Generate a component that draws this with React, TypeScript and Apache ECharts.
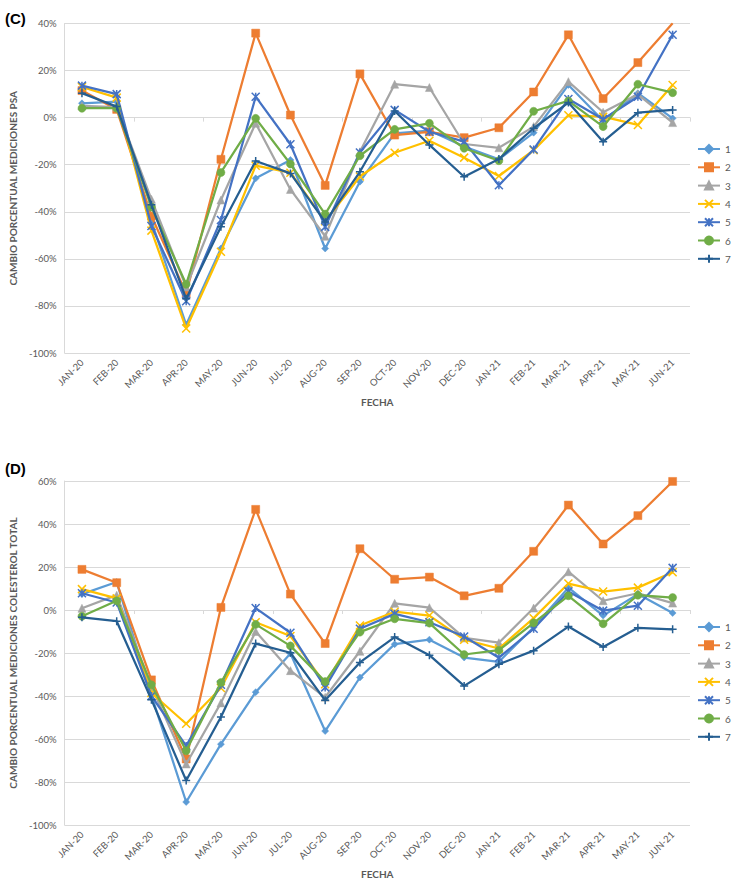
import React, { useEffect, useRef } from "react";
import * as echarts from "echarts";

const categories = ["JAN-20","FEB-20","MAR-20","APR-20","MAY-20","JUN-20","JUL-20","AUG-20","SEP-20","OCT-20","NOV-20","DEC-20","JAN-21","FEB-21","MAR-21","APR-21","MAY-21","JUN-21"];
const seriesNames = ["1","2","3","4","5","6","7"];

// (C) PSA
const psa1 = [6.1, 6.8, -44, -88, -55.6, -25.8, -18, -55.6, -27.2, -6.7, -5.5, -12.3, -17.7, -6.4, 13.9, -1.3, 10.4, -0.3];
const psa2 = [11.5, 3.5, -41.8, -74.7, -17.7, 35.9, 1.1, -28.8, 18.6, -7.4, -6, -8.5, -4.3, 10.9, 35.2, 8.1, 23.4, 40.1];
const psa3 = [5, 4.5, -34.7, -72, -35, -2.4, -30.5, -50.4, -14.5, 14.2, 12.8, -11.2, -12.8, -3.8, 15.3, 2.3, 9.9, -2.1];
const psa4 = [13, 8.5, -48, -89.6, -57, -20.4, -23.4, -44, -25, -14.9, -9.8, -17, -24.8, -13.8, 1, 0.4, -3.1, 13.9];
const psa5 = [13.6, 10, -46, -78, -43.5, 8.9, -11.3, -46.4, -14.8, 3.3, -6, -10.2, -28.7, -13.5, 7.9, -0.7, 8.9, 35.2];
const psa6 = [4, 4, -38, -70.8, -23.3, -0.3, -19.7, -41, -16.2, -5, -2.4, -13, -18.3, 2.7, 7.1, -3.8, 14.2, 10.6];
const psa7 = [10.4, 4.7, -37, -77, -46.4, -18.4, -23.7, -44.3, -23, 2.8, -11.6, -25.1, -17.6, -4.5, 6.4, -10.2, 2.1, 3.3];

// (D) Colesterol total
const col1 = [7.4, 13, -39.7, -89.3, -62.4, -38.2, -20.2, -56.3, -31.4, -15.9, -13.8, -22.1, -24.1, -8, 10.4, -2.6, 7.4, -1.4];
const col2 = [18.9, 12.7, -32.5, -69.3, 1.2, 46.8, 7.4, -15.6, 28.5, 14.3, 15.3, 6.6, 10.1, 27.3, 48.8, 30.7, 43.9, 59.8];
const col3 = [0.8, 6.9, -35.6, -71.6, -43.2, -10, -28.2, -40.6, -19.2, 3.1, 1.1, -13, -15.2, 0.9, 17.8, 4.3, 7.8, 3.2];
const col4 = [9.7, 5.4, -38.6, -52.9, -36.3, -5.7, -12.1, -34.5, -7.2, -0.8, -2.6, -13.8, -17.9, -3.8, 12.3, 8.6, 10.4, 17.6];
const col5 = [7.8, 3.5, -40, -63.2, -34.8, 0.9, -10.6, -36, -8.7, -1.8, -5.7, -12.3, -22.2, -8.7, 8.6, -0.3, 2, 19.6];
const col6 = [-2.9, 4.3, -34.8, -65.5, -33.7, -6.7, -16.7, -33.3, -10.3, -4.1, -6.1, -20.7, -18.7, -6, 6.6, -6.4, 6.9, 5.8];
const col7 = [-3.4, -5.2, -41.7, -79.3, -49.8, -15.6, -19.9, -42, -24.4, -12.6, -21, -35.3, -25.2, -18.9, -7.7, -17.2, -8.3, -9];

const psaData = [psa1, psa2, psa3, psa4, psa5, psa6, psa7];
const colData = [col1, col2, col3, col4, col5, col6, col7];

const colors = ["#5B9BD5", "#ED7D31", "#A5A5A5", "#FFC000", "#4472C4", "#70AD47", "#255E91"];
const symbols = [
  "diamond",
  "rect",
  "triangle",
  "path://M0,0L10,10M10,0L0,10",
  "path://M0,0L10,10M10,0L0,10M5,0L5,10",
  "circle",
  "path://M5,0L5,10M0,5L10,5",
];
const symbolSizes = [7, 8, 8, 8, 8, 8, 8];

const FONT = "Lato, 'Open Sans', sans-serif";
const GREY = "#595959";
const GRID = "#D9D9D9";

function makeSeries(data: number[][], xi: number, yi: number) {
  return data.map((d, i) => ({
    name: seriesNames[i],
    type: "line",
    xAxisIndex: xi,
    yAxisIndex: yi,
    data: d,
    symbol: symbols[i],
    symbolSize: symbolSizes[i],
    showAllSymbol: true,
    lineStyle: { color: colors[i], width: 2.25 },
    itemStyle: {
      color: colors[i],
      borderColor: colors[i],
      borderWidth: i === 3 || i === 4 || i === 6 ? 1.5 : 0.5,
    },
    z: 2 + i,
  }));
}

function makeXAxes(gi: number, titleGap: number) {
  return [
    {
      type: "category",
      gridIndex: gi,
      data: categories,
      boundaryGap: true,
      position: "bottom",
      axisLine: { show: false, onZero: false },
      axisTick: { show: false },
      axisLabel: {
        rotate: 45,
        fontSize: 9.5,
        color: GREY,
        fontFamily: FONT,
        margin: 8,
        interval: 0,
      },
      name: "FECHA",
      nameLocation: "middle",
      nameGap: titleGap,
      nameTextStyle: { fontSize: 10, fontWeight: "bold", color: GREY, fontFamily: FONT },
    },
    {
      type: "category",
      gridIndex: gi,
      data: categories,
      boundaryGap: true,
      position: "bottom",
      axisLine: { show: true, onZero: true, lineStyle: { color: GRID, width: 1 } },
      axisTick: { show: true, length: 4, lineStyle: { color: GRID } },
      axisLabel: { show: false },
    },
  ];
}

function makeYAxis(gi: number, min: number, max: number, title: string) {
  return {
    type: "value",
    gridIndex: gi,
    min,
    max,
    interval: 20,
    axisLine: { show: true, lineStyle: { color: GRID } },
    axisTick: { show: false },
    splitLine: { show: true, lineStyle: { color: GRID, width: 1 } },
    axisLabel: {
      formatter: "{value}%",
      fontSize: 9.5,
      color: GREY,
      fontFamily: FONT,
      margin: 8,
    },
    name: title,
    nameLocation: "middle",
    nameRotate: 90,
    nameGap: 37,
    nameTextStyle: { fontSize: 10, fontWeight: "bold", color: GREY, fontFamily: FONT },
  };
}

function makeLegend(top: number) {
  return {
    orient: "vertical",
    left: 697,
    top,
    itemWidth: 22,
    itemHeight: 10,
    itemGap: 8.3,
    padding: 0,
    data: seriesNames,
    textStyle: { fontSize: 10, color: GREY, fontFamily: FONT },
  };
}

export default function App() {
  const ref = useRef<HTMLDivElement>(null);
  useEffect(() => {
    if (!ref.current) return;
    const chart = echarts.init(ref.current, undefined, { renderer: "svg" });
    const option = {
      animation: false,
      backgroundColor: "#ffffff",
      title: [
        {
          text: "(C)",
          left: 0,
          top: 6,
          textStyle: { fontSize: 15, fontWeight: "bold", color: "#000", fontFamily: "'Liberation Sans', Arial, sans-serif" },
        },
        {
          text: "(D)",
          left: 0,
          top: 456,
          textStyle: { fontSize: 15, fontWeight: "bold", color: "#000", fontFamily: "'Liberation Sans', Arial, sans-serif" },
        },
      ],
      legend: [makeLegend(144), makeLegend(622)],
      grid: [
        { left: 56, right: 45, top: 23.5, height: 329.5, containLabel: false },
        { left: 53, right: 45, top: 481, height: 347, containLabel: false },
      ],
      xAxis: [...makeXAxes(0, 44), ...makeXAxes(1, 44)],
      yAxis: [
        makeYAxis(0, -100, 40, "CAMBIO PORCENTUAL MEDICIONES PSA"),
        makeYAxis(1, -100, 60, "CAMBIO PORCENTUAL MEDICIONES COLESTEROL TOTAL"),
      ],
      series: [...makeSeries(psaData, 0, 0), ...makeSeries(colData, 2, 1)],
    };
    chart.setOption(option as any);
    return () => chart.dispose();
  }, []);
  return (
    <div
      ref={ref}
      style={{ position: "absolute", left: 0, top: 0, width: 735, height: 880, background: "#fff" }}
    />
  );
}
